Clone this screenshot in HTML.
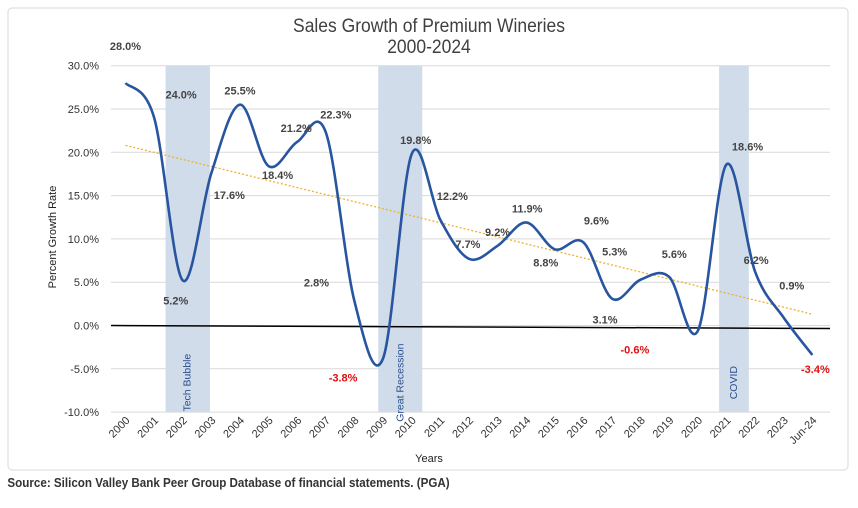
<!DOCTYPE html>
<html><head><meta charset="utf-8"><style>
body{margin:0;background:#fff;width:858px;height:503px;overflow:hidden;font-family:"Liberation Sans",Arial,sans-serif}
svg text{font-family:"Liberation Sans",Arial,sans-serif}
</style></head><body>
<svg id="c" width="858" height="503">
<rect x="8" y="8" width="840" height="462" rx="4" fill="#fff" stroke="#d9d9d9"/>
<text x="429" y="32" text-anchor="middle" font-size="19" fill="#404040" transform="scale(0.92,1)" style="transform-origin:429px 0">Sales Growth of Premium Wineries</text>
<text x="429" y="53" text-anchor="middle" font-size="19" fill="#404040" transform="scale(0.92,1)" style="transform-origin:429px 0">2000-2024</text>
<g id="grid"></g><g id="bands"></g><g id="marks"></g><g id="labels"></g>
<text x="0" y="0" transform="translate(56,237) rotate(-90)" text-anchor="middle" font-size="11" fill="#222">Percent Growth Rate</text>
<text x="429" y="462" text-anchor="middle" font-size="11" fill="#222">Years</text>
<text x="8" y="487" font-size="12.5" font-weight="bold" fill="#333" transform="scale(0.93,1)">Source: Silicon Valley Bank Peer Group Database of financial statements. (PGA)</text>
</svg>
<script>
const categories=["2000","2001","2002","2003","2004","2005","2006","2007","2008","2009","2010","2011","2012","2013","2014","2015","2016","2017","2018","2019","2020","2021","2022","2023","Jun-24"];
const growth=[28.0,24.0,5.2,17.6,25.5,18.4,21.2,22.3,2.8,-3.8,19.8,12.2,7.7,9.2,11.9,8.8,9.6,3.1,5.3,5.6,-0.6,18.6,6.2,0.9,-3.4];
const yTicks=[30,25,20,15,10,5,0,-5,-10];
const trendStart=20.8, trendEnd=1.3;
const bandNames=["Tech Bubble","Great Recession","COVID"];
const bandStart=[1.4,8.83,20.74];
const bandEnd=[2.95,10.37,21.78];
const labelOffsets=[[0,-37],[27,-23],[-7,20],[18,22],[0,-14],[9,9],[-1,-14],[10,-18],[-38,-19],[-40,19],[4,-14],[12,-24],[-1,-15],[0,-14],[1,-14],[-9,13],[13,-22],[-7,21],[-26,-28],[5,-23],[-63,19],[21,-18],[1,-12],[8,-32],[3,14]];
const X=i=>125.5+i*28.62, Y=v=>325.5-v*8.66;
const NS="http://www.w3.org/2000/svg";
function mk(t,p,a){const e=document.createElementNS(NS,t);for(const k in a)e.setAttribute(k,a[k]);document.getElementById(p).appendChild(e);return e;}
yTicks.forEach(t=>{
 const l=mk('line','grid',{x1:111,x2:830,y1:Y(t),y2:Y(t),stroke:'#d9d9d9'});
 
 
 const tx=mk('text','grid',{x:99,y:Y(t)+4,'text-anchor':'end','font-size':11,fill:'#333'});tx.textContent=t.toFixed(1)+'%';
 
 
});
categories.forEach((c,i)=>{
 const tx=mk('text','grid',{x:0,y:0,'text-anchor':'end','font-size':11,fill:'#333',transform:`translate(${X(i)+5},${421}) rotate(-45)`});tx.textContent=c;
 
 
});
bandNames.forEach((n,k)=>{
 const r=mk('rect','bands',{x:X(bandStart[k]),y:Y(30),width:X(bandEnd[k])-X(bandStart[k]),height:Y(-10)-Y(30),fill:'#d0dcea'});
 
 
 const cx=(X(bandStart[k])+X(bandEnd[k]))/2;
 const tx=mk('text','bands',{x:0,y:0,'text-anchor':'middle','font-size':10.5,fill:'#2a4f8f',transform:`translate(${cx+3},${Y(-6.6)}) rotate(-90)`});tx.textContent=n;
 
 
});
const z=mk('line','marks',{x1:111,x2:830,y1:Y(0),y2:Y(0)+3,stroke:'#000','stroke-width':1.5});


const tr=mk('line','marks',{x1:X(0),x2:X(categories.length-1),y1:Y(trendStart),y2:Y(trendEnd),stroke:'#f0b030','stroke-width':1.3,'stroke-dasharray':'2,2'});


const P=growth.map((v,i)=>[X(i),Y(v)]);
let d=`M${P[0][0]},${P[0][1]}`;
for(let i=0;i<P.length-1;i++){const p0=P[Math.max(0,i-1)],p1=P[i],p2=P[i+1],p3=P[Math.min(P.length-1,i+2)];const t=6;
 d+=` C${p1[0]+(p2[0]-p0[0])/t},${p1[1]+(p2[1]-p0[1])/t} ${p2[0]-(p3[0]-p1[0])/t},${p2[1]-(p3[1]-p1[1])/t} ${p2[0]},${p2[1]}`;}
const ln=mk('path','marks',{d:d,fill:'none',stroke:'#2855a0','stroke-width':2.6});


growth.forEach((v,i)=>{
 const o=labelOffsets[i];
 const tx=mk('text','labels',{x:X(i)+o[0],y:Y(v)+o[1]+4,'text-anchor':'middle','font-size':11,'font-weight':'bold',fill:v<0?'#e01010':'#444'});
 tx.textContent=v.toFixed(1)+'%';
 
 
});
</script>
</body></html>
